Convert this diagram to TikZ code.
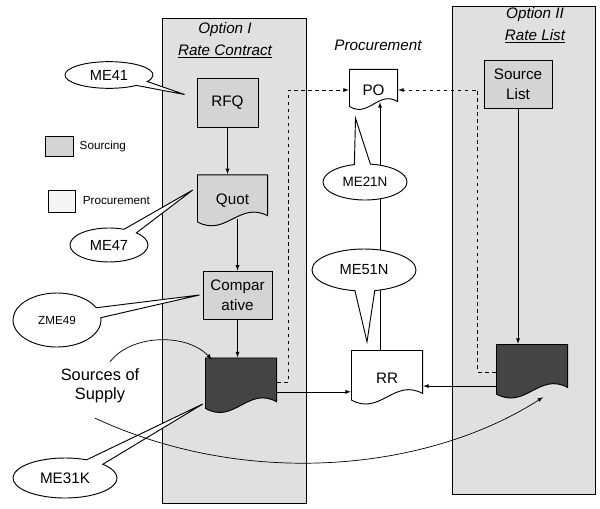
\documentclass[tikz,border=0pt]{standalone}
\usepackage{fontspec}
\setmainfont{Liberation Sans}
\usetikzlibrary{shapes,arrows,positioning,calc}
\definecolor{panelgray}{RGB}{224,224,224}
\definecolor{boxgray}{RGB}{212,212,212}
\definecolor{darkdoc}{RGB}{68,68,68}

\tikzset{
  panel/.style={draw,fill=panelgray,line width=0.6pt},
  proc/.style={draw,fill=boxgray,line width=0.8pt,align=center,inner sep=1pt,font=\fontsize{13}{17}\selectfont},
  doc/.style={align=center,inner sep=1pt,font=\fontsize{13}{17}\selectfont,
    path picture={
      \draw[fill=#1,line width=0.8pt]
        let \p1=([shift={(0.4pt,0.4pt)}]path picture bounding box.south west),
            \p2=([shift={(-0.4pt,-0.4pt)}]path picture bounding box.north east),
            \n1={\y2-\y1}, \n2={\x2-\x1} in
        (\x1,\y2) -- (\x2,\y2) -- (\x2,{\y1+0.22*\n1})
        .. controls ({\x1+0.6*\n2},{\y1+0.5*\n1}) and ({\x1+0.4*\n2},{\y1-0.19*\n1}) .. (\x1,{\y1+0.1*\n1}) -- cycle;}},
  bubble/.style={ellipse callout,draw,fill=white,line width=0.8pt,inner sep=0pt,callout pointer arc=22},
  optitle/.style={align=center,font=\fontsize{13}{19}\selectfont\itshape},
  conn/.style={->,line width=0.6pt},
  link/.style={->,dashed,line width=0.6pt},
}

\begin{document}
\begin{tikzpicture}[x=0.03cm,y=-0.03cm,>=latex]
\useasboundingbox (0,0) rectangle (600,508);

% the two option lanes
\draw[panel] (162,18) rectangle (306,503);
\draw[panel] (452,6) rectangle (595,494);
\node[optitle] (opt1) at (225,40) {Option I\\\underline{Rate Contract}};
\node[optitle] (opt2) at (535,25) {Option II\\\underline{Rate List}};
\node[optitle] (proctitle) at (378,45) {Procurement};

% legend
\node[draw,fill=boxgray,minimum width=0.84cm,minimum height=0.6cm] (legsrc) at (59,146) {};
\node[right=2pt of legsrc,font=\fontsize{10}{12}\selectfont] (legsrctxt) {Sourcing};
\node[draw,fill=gray!8,minimum width=0.81cm,minimum height=0.66cm] (legproc) at (61.5,201) {};
\node[right=3pt of legproc,font=\fontsize{10}{12}\selectfont] (legproctxt) {Procurement};

% sourcing steps
\node[proc,minimum width=1.83cm,minimum height=1.47cm] (rfq) at (227.5,102.5) {RFQ};
\node[doc=boxgray,minimum width=2.13cm,minimum height=1.6cm] (quot) at (232.5,201) {Quot};
\node[proc,minimum width=2.07cm,minimum height=1.44cm] (comp) at (237.5,295) {Compar\\ative};
\node[doc=darkdoc,minimum width=2.16cm,minimum height=1.71cm] (sos1) at (241,386) {};
\node[proc,minimum width=2.04cm,minimum height=1.44cm] (srclist) at (518,84) {Source\\List};
\node[doc=darkdoc,minimum width=2.16cm,minimum height=1.68cm] (sos2) at (532,372) {};

% procurement documents
\node[doc=white,minimum width=1.47cm,minimum height=1.26cm] (po) at (373.5,90) {PO};
\node[doc=white,minimum width=2.16cm,minimum height=1.68cm] (rr) at (387,378) {RR};

\coordinate (qbot) at ($(quot.south)+(5,-9)$);
\coordinate (rrtop) at ($(rr.north)+(-7,0)$);
\coordinate (pobot) at ($(po.south)+(6.5,-9)$);
\draw[conn] (rfq.south) -- (rfq.south |- quot.north);
\draw[conn] (qbot) -- (qbot |- comp.north);
\draw[conn] (comp.south) -- (comp.south |- sos1.north);
\draw[conn] (srclist.south) -- (srclist.south |- sos2.north);
\draw[conn] ([yshift=-5pt]sos1.east) -- ([yshift=-5pt]sos1.east -| rr.west);
\draw[conn] ([yshift=-12pt]sos2.west) -- ([yshift=-12pt]sos2.west -| rr.east);
\draw[conn] (rrtop) -- (pobot);
\draw[link] ([yshift=3pt]sos1.east) -- ++(11,0) |- (po.west);
\draw[link] (sos2.west) -- ++(-18,0) |- (po.east);

% transaction codes
\node[bubble,minimum width=2.64cm,minimum height=0.8cm,font=\fontsize{12.5}{14}\selectfont,
  callout absolute pointer={($(rfq.west)+(-12,-8)$)}] (me41) at (109,75) {ME41};
\node[bubble,minimum width=2.34cm,minimum height=1.02cm,font=\fontsize{12.5}{14}\selectfont,
  callout absolute pointer={($(quot.west)+(-4,-11)$)}] (me47) at (109,245) {ME47};
\node[bubble,minimum width=2.64cm,minimum height=1.62cm,font=\fontsize{10}{12}\selectfont,
  callout absolute pointer={($(comp.west)+(-3,0)$)}] (zme49) at (57,320) {ZME49};
\node[bubble,minimum width=3.12cm,minimum height=1.2cm,font=\fontsize{13}{15}\selectfont,
  callout absolute pointer={($(sos1.west)+(-2,18)$)}] (me31k) at (65,478) {ME31K};
\node[bubble,minimum width=2.52cm,minimum height=1.08cm,font=\fontsize{11.5}{13}\selectfont,
  callout absolute pointer={($(po.south)+(-18,7)$)}] (me21n) at (365,182) {ME21N};
\node[bubble,minimum width=3.12cm,minimum height=1.26cm,font=\fontsize{12.5}{14}\selectfont,
  callout absolute pointer={($(rr.north)+(-20,-8)$)}] (me51n) at (364,270) {ME51N};

% sources of supply
\node[align=center,font=\fontsize{14}{16}\selectfont] (sostxt) at (100,386) {Sources of\\Supply};
\draw[conn] ($(sostxt.north)+(10,-3)$) .. controls (130,335) and (185,332) .. ($(sos1.north west)+(7,2)$);
\draw[conn] ($(sostxt.south)+(-5,11)$) .. controls (250,490) and (430,470) .. ($(sos2.south)+(11,-3)$);
\end{tikzpicture}
\end{document}
